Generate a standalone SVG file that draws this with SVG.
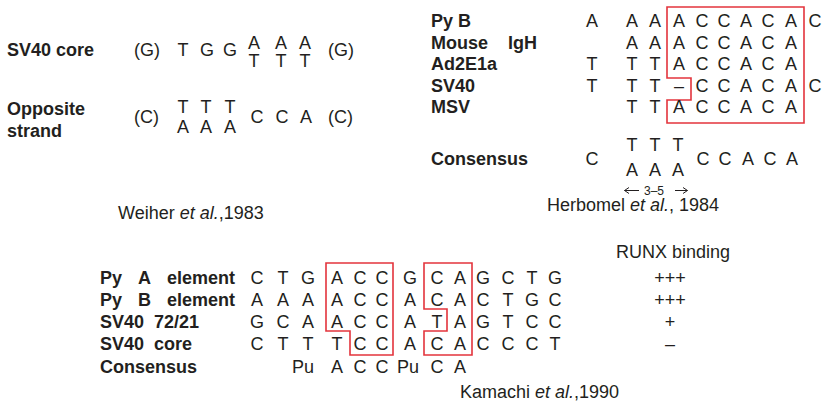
<svg xmlns="http://www.w3.org/2000/svg" width="824" height="403" viewBox="0 0 824 403">
<style>
text{font-family:"Liberation Sans",Arial,Helvetica,sans-serif;font-size:18px;fill:#231f20}
.b{font-weight:bold}
.m{text-anchor:middle}
.i{font-style:italic}
.s{font-size:12px}
.box{fill:none;stroke:#e3343c;stroke-width:1.6}
.arr{fill:none;stroke:#231f20;stroke-width:1}
</style>
<rect width="824" height="403" fill="#fff"/>

<g id="weiher">
<text class="b" x="7" y="56">SV40 core</text>
<text x="134" y="56">(G)</text>
<text class="m" x="183" y="56">T</text><text class="m" x="207" y="56">G</text><text class="m" x="230" y="56">G</text>
<text class="m" x="254" y="48.5">A</text><text class="m" x="281" y="48.5">A</text><text class="m" x="305" y="48.5">A</text>
<text class="m" x="254" y="66.5">T</text><text class="m" x="281" y="66.5">T</text><text class="m" x="305" y="66.5">T</text>
<text x="328" y="56">(G)</text>

<text class="b" x="7" y="115">Opposite</text>
<text class="b" x="7" y="137">strand</text>
<text x="134" y="123">(C)</text>
<text class="m" x="183" y="113">T</text><text class="m" x="206" y="113">T</text><text class="m" x="230" y="113">T</text>
<text class="m" x="183" y="133">A</text><text class="m" x="206" y="133">A</text><text class="m" x="230" y="133">A</text>
<text class="m" x="257" y="123">C</text><text class="m" x="282" y="123">C</text><text class="m" x="306" y="123">A</text>
<text x="328" y="123">(C)</text>

<text x="118" y="219">Weiher <tspan class="i">et al.</tspan>,1983</text>
</g>

<g id="herbomel">
<polygon class="box" points="667,7 804,7 804,123 667,123 667,100 691,100 691,78 667,78"/>
<text class="b" x="431" y="27">Py B</text>
<text class="b" x="431" y="48.5">Mouse <tspan x="508">IgH</tspan></text>
<text class="b" x="431" y="70">Ad2E1a</text>
<text class="b" x="431" y="91.5">SV40</text>
<text class="b" x="431" y="113">MSV</text>

<g>
<text class="m" x="592" y="27">A</text><text class="m" x="632" y="27">A</text><text class="m" x="655" y="27">A</text>
<text class="m" x="679" y="27">A</text><text class="m" x="702" y="27">C</text><text class="m" x="724" y="27">C</text><text class="m" x="746" y="27">A</text><text class="m" x="768" y="27">C</text><text class="m" x="791" y="27">A</text><text class="m" x="815" y="27">C</text>

<text class="m" x="632" y="48.5">A</text><text class="m" x="655" y="48.5">A</text>
<text class="m" x="679" y="48.5">A</text><text class="m" x="702" y="48.5">C</text><text class="m" x="724" y="48.5">C</text><text class="m" x="746" y="48.5">A</text><text class="m" x="768" y="48.5">C</text><text class="m" x="791" y="48.5">A</text>

<text class="m" x="592" y="70">T</text><text class="m" x="632" y="70">T</text><text class="m" x="655" y="70">T</text>
<text class="m" x="679" y="70">A</text><text class="m" x="702" y="70">C</text><text class="m" x="724" y="70">C</text><text class="m" x="746" y="70">A</text><text class="m" x="768" y="70">C</text><text class="m" x="791" y="70">A</text>

<text class="m" x="592" y="91.5">T</text><text class="m" x="632" y="91.5">T</text><text class="m" x="655" y="91.5">T</text>
<text class="m" x="679" y="91.5">–</text><text class="m" x="702" y="91.5">C</text><text class="m" x="724" y="91.5">C</text><text class="m" x="746" y="91.5">A</text><text class="m" x="768" y="91.5">C</text><text class="m" x="791" y="91.5">A</text><text class="m" x="815" y="91.5">C</text>

<text class="m" x="632" y="113">T</text><text class="m" x="655" y="113">T</text>
<text class="m" x="679" y="113">A</text><text class="m" x="702" y="113">C</text><text class="m" x="724" y="113">C</text><text class="m" x="746" y="113">A</text><text class="m" x="768" y="113">C</text><text class="m" x="791" y="113">A</text>
</g>

<text class="b" x="431" y="164.5">Consensus</text>
<text class="m" x="592" y="164.5">C</text>
<text class="m" x="632" y="151">T</text><text class="m" x="655" y="151">T</text><text class="m" x="678" y="151">T</text>
<text class="m" x="632" y="175.5">A</text><text class="m" x="655" y="175.5">A</text><text class="m" x="678" y="175.5">A</text>
<text class="m" x="703" y="164.5">C</text><text class="m" x="725" y="164.5">C</text><text class="m" x="748" y="164.5">A</text><text class="m" x="770" y="164.5">C</text><text class="m" x="792" y="164.5">A</text>
<path class="arr" d="M639,190.5H624.5M629,187.5L624.5,190.5L629,193.5"/>
<text class="m s" x="654" y="194.5">3–5</text>
<path class="arr" d="M675,190.5H687.5M683,187.5L687.5,190.5L683,193.5"/>

<text x="547" y="211">Herbomel <tspan class="i">et al.</tspan>, 1984</text>
</g>

<g id="kamachi">
<polygon class="box" points="326,263 393,263 393,355 350,355 350,331 326,331"/>
<polygon class="box" points="424,263 472,263 472,355 424,355 424,331 447,331 447,309 424,309"/>

<text x="616" y="258">RUNX binding</text>

<text class="b" x="100" y="284">Py<tspan x="138">A</tspan><tspan x="167">element</tspan></text>
<text class="b" x="100" y="306">Py<tspan x="138">B</tspan><tspan x="167">element</tspan></text>
<text class="b" x="100" y="328">SV40<tspan x="154">72/21</tspan></text>
<text class="b" x="100" y="350">SV40<tspan x="154">core</tspan></text>
<text class="b" x="100" y="373">Consensus</text>

<text class="m" x="257" y="284">C</text><text class="m" x="283" y="284">T</text><text class="m" x="308" y="284">G</text><text class="m" x="337" y="284">A</text><text class="m" x="360" y="284">C</text><text class="m" x="382" y="284">C</text><text class="m" x="410" y="284">G</text><text class="m" x="437" y="284">C</text><text class="m" x="460" y="284">A</text><text class="m" x="483" y="284">G</text><text class="m" x="508" y="284">C</text><text class="m" x="532" y="284">T</text><text class="m" x="555" y="284">G</text>

<text class="m" x="257" y="306">A</text><text class="m" x="283" y="306">A</text><text class="m" x="308" y="306">A</text><text class="m" x="337" y="306">A</text><text class="m" x="360" y="306">C</text><text class="m" x="382" y="306">C</text><text class="m" x="410" y="306">A</text><text class="m" x="437" y="306">C</text><text class="m" x="460" y="306">A</text><text class="m" x="483" y="306">C</text><text class="m" x="508" y="306">T</text><text class="m" x="532" y="306">G</text><text class="m" x="555" y="306">C</text>

<text class="m" x="257" y="328">G</text><text class="m" x="283" y="328">C</text><text class="m" x="308" y="328">A</text><text class="m" x="337" y="328">A</text><text class="m" x="360" y="328">C</text><text class="m" x="382" y="328">C</text><text class="m" x="410" y="328">A</text><text class="m" x="437" y="328">T</text><text class="m" x="460" y="328">A</text><text class="m" x="483" y="328">G</text><text class="m" x="508" y="328">T</text><text class="m" x="532" y="328">C</text><text class="m" x="555" y="328">C</text>

<text class="m" x="257" y="350">C</text><text class="m" x="283" y="350">T</text><text class="m" x="308" y="350">T</text><text class="m" x="337" y="350">T</text><text class="m" x="360" y="350">C</text><text class="m" x="382" y="350">C</text><text class="m" x="410" y="350">A</text><text class="m" x="437" y="350">C</text><text class="m" x="460" y="350">A</text><text class="m" x="483" y="350">C</text><text class="m" x="508" y="350">C</text><text class="m" x="532" y="350">C</text><text class="m" x="555" y="350">T</text>

<text class="m" x="303" y="373">Pu</text><text class="m" x="337" y="373">A</text><text class="m" x="360" y="373">C</text><text class="m" x="382" y="373">C</text><text class="m" x="408" y="373">Pu</text><text class="m" x="437" y="373">C</text><text class="m" x="460" y="373">A</text>

<text class="m" x="670" y="284">+++</text>
<text class="m" x="670" y="306">+++</text>
<text class="m" x="670" y="328">+</text>
<text class="m" x="670" y="350">–</text>

<text x="460" y="398">Kamachi <tspan class="i">et al.</tspan>,1990</text>
</g>
</svg>
